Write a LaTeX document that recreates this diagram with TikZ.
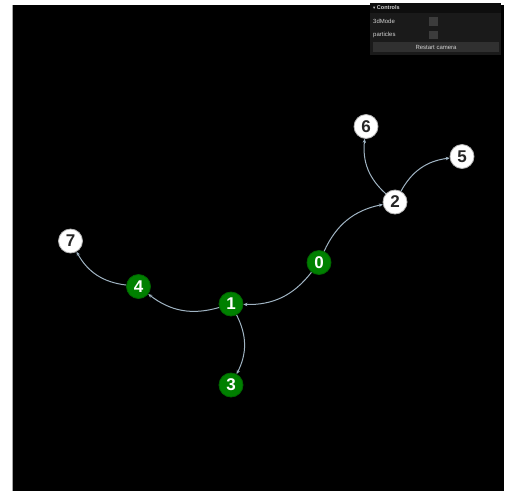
\documentclass[tikz,border=0pt]{standalone}
\usepackage{fontspec}
\setmainfont{Liberation Sans}
\newfontfamily\symfont{DejaVu Sans}
\usetikzlibrary{arrows.meta}
\definecolor{nodegreen}{RGB}{0,128,0}
\definecolor{greenedge}{RGB}{0,100,0}
\definecolor{linkcol}{RGB}{160,180,195}
\definecolor{paneltitle}{RGB}{14,14,14}
\definecolor{panelbody}{RGB}{26,26,26}
\definecolor{checkbox}{RGB}{60,60,60}
\definecolor{buttoncol}{RGB}{48,48,48}
\definecolor{paneltext}{RGB}{210,210,210}
\tikzset{
  gnode/.style={circle,fill=nodegreen,draw=greenedge,line width=0.8pt,minimum size=24pt,inner sep=0pt,text=white,font=\bfseries\fontsize{17}{17}\selectfont},
  wnode/.style={circle,fill=white,draw=gray!60,line width=0.8pt,minimum size=24pt,inner sep=0pt,text=black!85,font=\bfseries\fontsize{17}{17}\selectfont},
  link/.style={draw=linkcol,line width=1pt,-{Stealth[length=4pt,width=3.5pt]},bend left=27},
  ptext/.style={text=paneltext,font=\fontsize{6}{7}\selectfont,inner sep=0pt,anchor=west},
}
\begin{document}
\begin{tikzpicture}[x=1pt,y=-1pt]
\useasboundingbox (0,0) rectangle (505,491);
\fill[white] (0,0) rectangle (505,491);
\fill[black] (12,5) rectangle (504,491);
\draw[gray!70,line width=0.6pt] (12,5) -- (12,491);
% panel
\fill[panelbody] (370,3) rectangle (501,55);
\fill[paneltitle] (370,3) rectangle (501,13);
\node[ptext,font=\bfseries\fontsize{5.5}{6}\selectfont] (ptitle) at (373,8) {{\symfont\fontsize{4.5}{5}\selectfont ▾} Controls};
\node[ptext] (p3d) at (373,21) {3dMode};
\node[ptext] (ppart) at (373,34.5) {particles};
\fill[checkbox] (429,17) rectangle (438,25.5);
\fill[checkbox] (429,30.5) rectangle (438,39);
\fill[buttoncol] (373,42) rectangle (499,52);
\node[ptext,anchor=center] (pbtn) at (436,47) {Restart camera};
% nodes
\node[gnode] (n0) at (319,262.5) {0};
\node[gnode] (n1) at (231,304) {1};
\node[wnode] (n2) at (395,202) {2};
\node[gnode] (n3) at (231,385) {3};
\node[gnode] (n4) at (138.5,286.5) {4};
\node[wnode] (n5) at (462,156.5) {5};
\node[wnode] (n6) at (366,126.5) {6};
\node[wnode] (n7) at (70.5,241) {7};
% links
\draw[link] (n0) to (n1);
\draw[link] (n1) to (n4);
\draw[link] (n1) to (n3);
\draw[link] (n4) to (n7);
\draw[link] (n0) to (n2);
\draw[link] (n2) to (n6);
\draw[link] (n2) to (n5);
\end{tikzpicture}
\end{document}
